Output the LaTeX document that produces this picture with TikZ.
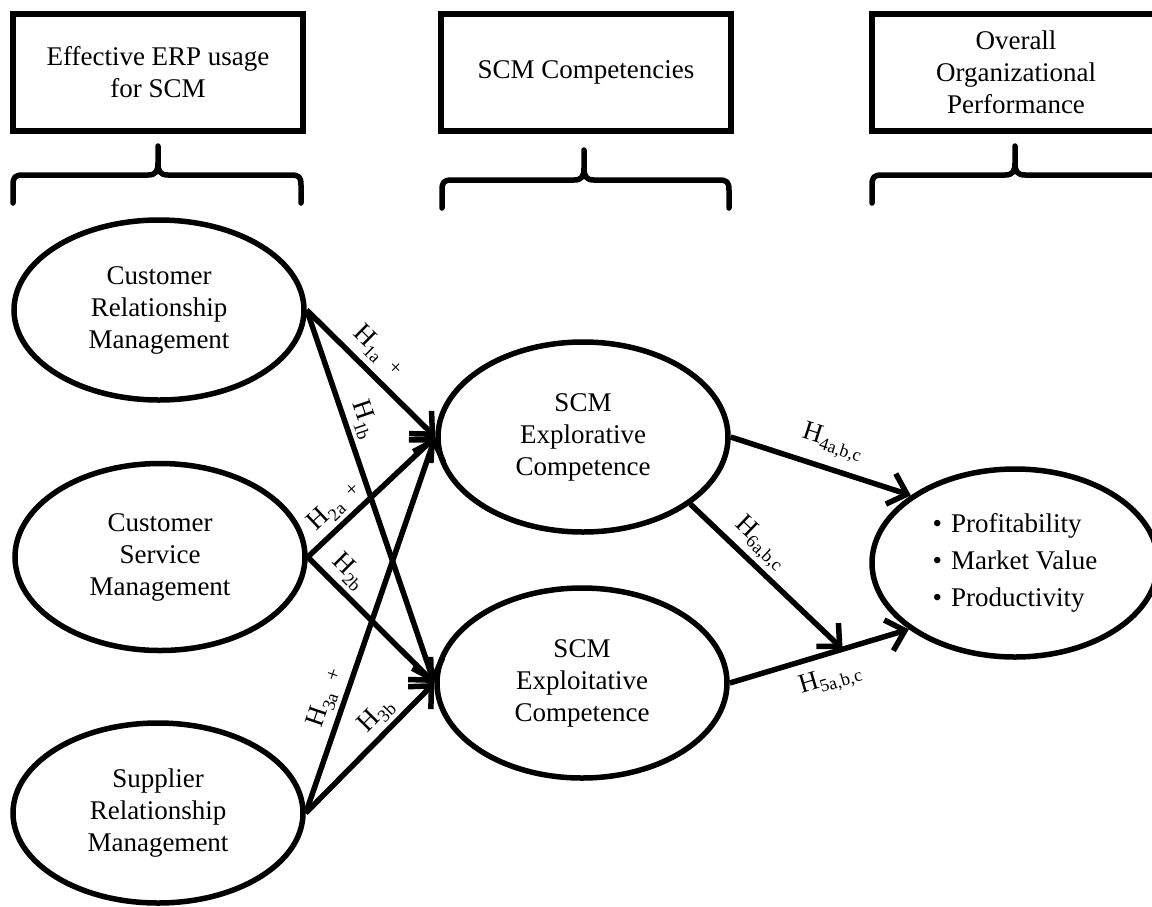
\documentclass[tikz,border=0pt]{standalone}
\usepackage{fontspec}
\setmainfont{Liberation Serif}
\usetikzlibrary{shapes.geometric,arrows.meta,calc}
\newcommand\dfont{\fontsize{27pt}{32pt}\selectfont}
\newcommand\sfont{\fontsize{18pt}{18pt}\selectfont}
\newcommand\Hs[1]{H\raisebox{-0.45ex}{\sfont #1}}
\newcommand\Hp[1]{H\raisebox{-0.45ex}{\sfont #1}\hspace{12pt}{\fontsize{21pt}{21pt}\selectfont +}}
\begin{document}
\begin{tikzpicture}[x=1pt,y=-1pt,line width=5.5pt,
  hdr/.style={draw,rectangle,minimum width=290pt,minimum height=117pt,align=center,font=\dfont,inner sep=0pt},
  oval/.style={draw,ellipse,minimum width=290pt,minimum height=184pt,align=center,font=\dfont,inner sep=0pt},
  brc/.style={line width=5.5pt,line cap=round,line join=round},
  link/.style={-{Straight Barb[length=17pt,width=32pt]},line width=5.5pt},
  lab/.style={font=\dfont,sloped,inner sep=2pt}]
\useasboundingbox[fill=white] (0,0) rectangle (1152,906);
% header boxes
\node[hdr] (b1) at (158,72.5) {Effective ERP usage\\for SCM};
\node[hdr] (b2) at (586,72.5) {SCM Competencies};
\node[hdr,minimum width=288pt] (b3) at (1016,72.5) {Overall\\Organizational\\Performance};
% braces
\draw[brc] (13,203) -- (13,185) .. controls (13,177) and (15,175) .. (23,175) -- (148,175) .. controls (156,175) and (158,171) .. (158,163) -- (158,146)
  (158,163) .. controls (158,171) and (160,175) .. (168,175) -- (291,175) .. controls (299,175) and (301,177) .. (301,185) -- (301,203);
\draw[brc] (442,208) -- (442,190) .. controls (442,182) and (444,180) .. (452,180) -- (574,180) .. controls (582,180) and (584,176) .. (584,168) -- (584,150)
  (584,168) .. controls (584,176) and (586,180) .. (594,180) -- (719,180) .. controls (727,180) and (729,182) .. (729,190) -- (729,208);
\draw[brc] (872,203) -- (872,185) .. controls (872,177) and (874,175) .. (882,175) -- (1005,175) .. controls (1013,175) and (1015,171) .. (1015,163) -- (1015,146)
  (1015,163) .. controls (1015,171) and (1017,175) .. (1025,175) -- (1150,175) .. controls (1158,175) and (1160,177) .. (1160,185) -- (1160,203);
% ellipses
\node[oval,minimum height=180pt] (crm) at (159,310) {Customer\\Relationship\\Management};
\node[oval,minimum height=187pt] (csm) at (160,557) {Customer\\Service\\Management};
\node[oval,minimum height=180pt] (srm) at (158,813) {Supplier\\Relationship\\Management};
\node[oval,minimum height=190pt] (expl) at (583,437) {SCM\\Explorative\\Competence};
\node[oval,minimum height=190pt] (expt) at (582,683) {SCM\\Exploitative\\Competence};
\node[oval,minimum width=286pt,minimum height=188pt,font=\fontsize{27pt}{37pt}\selectfont,align=left] (perf) at (1015,563)
  {\textbullet\hspace{9pt}Profitability\\\textbullet\hspace{9pt}Market Value\\\textbullet\hspace{9pt}Productivity};
% connectors
\draw[link] (crm.east) -- node[lab,above=4pt,pos=0.44] {\Hp{1a}} (expl.west);
\draw[link] (crm.east) -- node[lab,above=2pt,pos=0.31] {\Hs{1b}} (expt.west);
\draw[link] (csm.east) -- node[lab,above=2pt,pos=0.31] {\Hp{2a}} (expl.west);
\draw[link] (csm.east) -- node[lab,above=2pt,pos=0.22] {\Hs{2b}} (expt.west);
\draw[link] (srm.east) -- node[lab,above=2pt,pos=0.29] {\Hp{3a}} (expl.west);
\draw[link] (srm.east) -- node[lab,above=2pt,pos=0.65] {\Hs{3b}} (expt.west);
\draw[link] (expl.east) -- node[lab,above=8pt,pos=0.52] {\Hs{4a,b,c}} (perf.147);
\draw[link] (expt.east) -- node[lab,below=8pt,pos=0.52] {\Hs{5a,b,c}} (perf.212);
\coordinate (h6end) at ($(expt.east)!0.63!(perf.212)$);
\draw[link] (expl.-32) -- node[lab,above=2pt,pos=0.37] {\Hs{6a,b,c}} (h6end);
\end{tikzpicture}
\end{document}
